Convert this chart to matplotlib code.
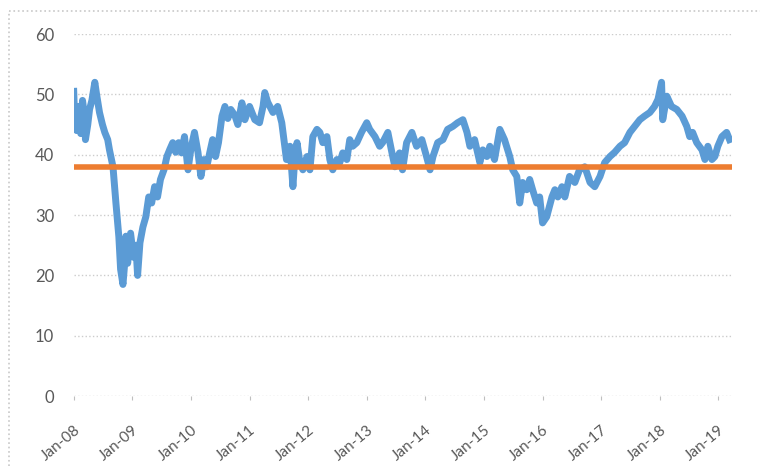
import matplotlib.pyplot as plt
from matplotlib.lines import Line2D

# decimal years
years = [
    2008.00, 2008.02, 2008.05, 2008.09, 2008.10, 2008.12, 2008.15, 2008.19, 2008.20, 2008.24,
    2008.27, 2008.31, 2008.36, 2008.39, 2008.44, 2008.49, 2008.53, 2008.58, 2008.61, 2008.67,
    2008.72, 2008.77, 2008.80, 2008.84, 2008.87, 2008.89, 2008.92, 2008.97, 2009.02, 2009.06,
    2009.09, 2009.13, 2009.18, 2009.23, 2009.28, 2009.33, 2009.38, 2009.43, 2009.48, 2009.54,
    2009.59, 2009.64, 2009.69, 2009.74, 2009.79, 2009.84, 2009.89, 2009.95, 2010.00, 2010.06,
    2010.12, 2010.17, 2010.22, 2010.27, 2010.32, 2010.37, 2010.42, 2010.47, 2010.53, 2010.58,
    2010.63, 2010.68, 2010.75, 2010.80, 2010.87, 2010.92, 2011.00, 2011.09, 2011.17, 2011.23,
    2011.26, 2011.31, 2011.40, 2011.48, 2011.55, 2011.60, 2011.63, 2011.69, 2011.74, 2011.77,
    2011.81, 2011.86, 2011.91, 2011.98, 2012.03, 2012.08, 2012.15, 2012.20, 2012.25, 2012.32,
    2012.37, 2012.42, 2012.49, 2012.54, 2012.59, 2012.66, 2012.71, 2012.76, 2012.83, 2012.91,
    2013.00, 2013.05, 2013.14, 2013.22, 2013.27, 2013.36, 2013.43, 2013.48, 2013.53, 2013.56,
    2013.61, 2013.68, 2013.77, 2013.85, 2013.94, 2014.02, 2014.08, 2014.13, 2014.21, 2014.30,
    2014.38, 2014.47, 2014.55, 2014.64, 2014.71, 2014.76, 2014.84, 2014.93, 2014.98, 2015.05,
    2015.10, 2015.18, 2015.27, 2015.35, 2015.44, 2015.49, 2015.56, 2015.61, 2015.66, 2015.73,
    2015.78, 2015.83, 2015.90, 2015.95, 2016.00, 2016.07, 2016.16, 2016.21, 2016.26, 2016.33,
    2016.38, 2016.46, 2016.55, 2016.63, 2016.72, 2016.81, 2016.89, 2016.98, 2017.06, 2017.15,
    2017.23, 2017.32, 2017.40, 2017.49, 2017.57, 2017.66, 2017.74, 2017.83, 2017.91, 2017.97,
    2018.03, 2018.05, 2018.12, 2018.20, 2018.29, 2018.38, 2018.46, 2018.51, 2018.56, 2018.63,
    2018.72, 2018.77, 2018.82, 2018.89, 2018.94, 2018.99, 2019.06, 2019.14, 2019.19,
]
values = [
    50.5, 45.0, 44.0, 48.0, 45.0, 43.5, 49.0, 46.0, 42.5, 45.0,
    47.5, 49.0, 52.0, 50.0, 47.0, 45.0, 43.7, 42.5, 40.8, 38.0,
    32.0, 26.4, 21.0, 18.5, 22.0, 26.5, 22.0, 27.0, 23.0, 25.0,
    20.0, 25.4, 28.0, 29.7, 33.0, 32.0, 34.7, 33.0, 35.9, 37.5,
    39.7, 40.9, 42.0, 40.4, 42.0, 40.3, 43.0, 37.5, 41.0, 43.7,
    40.4, 36.4, 39.2, 38.0, 40.3, 42.5, 39.7, 42.0, 46.4, 48.0,
    46.0, 47.5, 46.5, 45.0, 48.6, 45.8, 48.0, 45.8, 45.3, 48.0,
    50.3, 48.7, 47.0, 48.0, 45.3, 41.4, 39.2, 41.4, 34.7, 39.0,
    42.0, 38.7, 37.5, 39.7, 37.5, 43.0, 44.2, 43.7, 42.0, 43.0,
    39.2, 37.5, 39.2, 38.7, 40.3, 39.2, 42.5, 41.4, 42.0, 43.7,
    45.3, 44.2, 43.0, 41.4, 42.0, 43.7, 40.3, 38.0, 39.7, 40.3,
    37.5, 42.0, 43.7, 41.4, 42.5, 39.7, 37.5, 39.7, 42.0, 42.5,
    44.2, 44.7, 45.3, 45.8, 43.7, 41.4, 42.5, 38.7, 40.8, 39.7,
    41.4, 39.2, 44.2, 42.5, 39.7, 37.5, 36.4, 32.0, 35.4, 34.2,
    35.9, 34.2, 32.0, 33.0, 28.7, 29.7, 33.0, 34.2, 33.0, 34.7,
    33.0, 36.4, 35.4, 37.5, 38.0, 35.4, 34.7, 36.4, 38.7, 39.7,
    40.4, 41.4, 42.0, 43.7, 44.7, 45.8, 46.4, 47.0, 48.0, 49.2,
    52.0, 45.8, 49.7, 48.0, 47.5, 46.4, 44.7, 43.0, 43.7, 42.0,
    40.8, 39.2, 41.4, 39.2, 39.7, 41.4, 43.0, 43.7, 42.5,
]
average = 38.0

tick_years = list(range(2008, 2020))
tick_labels = ['Jan-%02d' % (y % 100) for y in tick_years]
y_ticks = [0, 10, 20, 30, 40, 50, 60]

plt.rcParams['font.family'] = ['Lato', 'DejaVu Sans']

fig = plt.figure(figsize=(7.6, 4.66), dpi=100)
ax = fig.add_axes([0.097, 0.150, 0.866, 0.777])

ax.plot(years, values, color='#5b9bd5', linewidth=5.0, solid_joinstyle='round')
ax.axhline(average, color='#ed7d31', linewidth=4.0)

ax.set_xlim(2008.0, 2019.23)
ax.set_ylim(0, 60)
ax.set_yticks(y_ticks)
ax.set_xticks(tick_years)
ax.set_xticklabels(tick_labels, rotation=40, ha='right', rotation_mode='anchor')

ax.grid(axis='y', color='#cccccc', linestyle=':', linewidth=1.0)
ax.set_axisbelow(True)
for side in ['top', 'right', 'left', 'bottom']:
    ax.spines[side].set_visible(False)
ax.tick_params(axis='y', length=0, pad=14, labelsize=12, labelcolor='#595959')
ax.tick_params(axis='x', length=3, color='#bfbfbf', pad=16, labelsize=11, labelcolor='#595959')

# dotted chart border (left and top edges visible)
fig.add_artist(Line2D([0.012, 0.012], [0.0, 0.976], color='#c8c8c8', linestyle=':', linewidth=1.2))
fig.add_artist(Line2D([0.012, 1.0], [0.976, 0.976], color='#c8c8c8', linestyle=':', linewidth=1.2))

fig.savefig('out.png', dpi=100)
